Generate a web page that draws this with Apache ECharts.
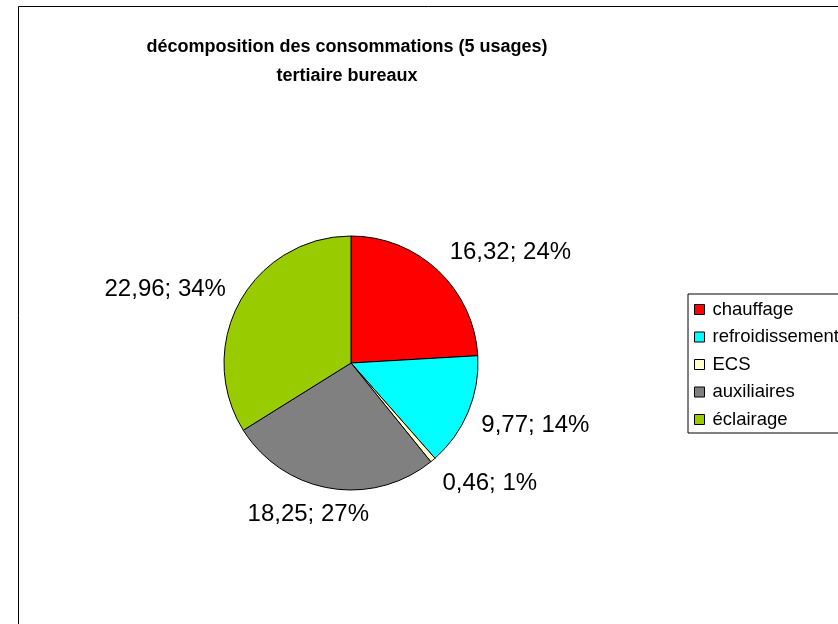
<!DOCTYPE html>
<html>
<head>
<meta charset="utf-8">
<script src="https://cdn.jsdelivr.net/npm/echarts@6/dist/echarts.min.js"></script>
<style>
html, body { margin: 0; padding: 0; background: #fff; }
#main { width: 838px; height: 624px; }
</style>
</head>
<body>
<div id="main"></div>
<script>
// usages et consommations
var categories = ['chauffage', 'refroidissement', 'ECS', 'auxiliaires', 'éclairage'];
var values = [16.32, 9.77, 0.46, 18.25, 22.96];
var colors = ['#ff0000', '#00ffff', '#ffffcc', '#808080', '#99cc00'];

// petits décalages des étiquettes (placement "au mieux" d'Excel)
var labelNudge = [[-10, -1], [-14, 4], [-11, 5], [48, 2], [12, 0]];

var pieData = categories.map(function (name, i) {
  return { name: name, value: values[i], itemStyle: { color: colors[i] } };
});

var myChart = echarts.init(document.getElementById('main'));
myChart.setOption({
  animation: false,
  textStyle: { fontFamily: '"Liberation Sans", Arial, sans-serif' },
  title: {
    text: 'décomposition des consommations (5 usages)\ntertiaire bureaux',
    left: 342,
    textAlign: 'center',
    top: 28,
    textStyle: {
      fontSize: 18,
      fontWeight: 'bold',
      color: '#000',
      lineHeight: 29,
      fontFamily: '"Liberation Sans", Arial, sans-serif'
    }
  },
  graphic: [{
    type: 'rect',
    shape: { x: 18.5, y: 6.5, width: 900, height: 700 },
    style: { fill: 'none', stroke: '#000', lineWidth: 1 },
    silent: true
  }],
  legend: {
    orient: 'vertical',
    left: 688,
    top: 294,
    padding: [6, 6, 4, 6],
    borderColor: '#000',
    borderWidth: 1,
    itemWidth: 10,
    itemHeight: 10,
    itemGap: 8.5,
    icon: 'rect',
    itemStyle: { borderColor: '#000', borderWidth: 1 },
    textStyle: { fontSize: 18.5, lineHeight: 18, color: '#000', padding: [0, 0, 0, 3] },
    data: categories
  },
  series: [{
    type: 'pie',
    center: [351, 363],
    radius: 127,
    startAngle: 90,
    clockwise: true,
    data: pieData,
    itemStyle: { borderColor: '#000', borderWidth: 1 },
    label: {
      show: true,
      position: 'outside',
      fontSize: 24,
      color: '#000',
      formatter: function (p) {
        return p.value.toFixed(2).replace('.', ',') + '; ' + Math.round(p.percent) + '%';
      }
    },
    labelLine: { show: false, length: 24, length2: 0 },
    labelLayout: function (p) {
      var n = labelNudge[p.dataIndex];
      return { dx: n[0], dy: n[1] };
    },
    emphasis: { disabled: true }
  }]
});
</script>
</body>
</html>
